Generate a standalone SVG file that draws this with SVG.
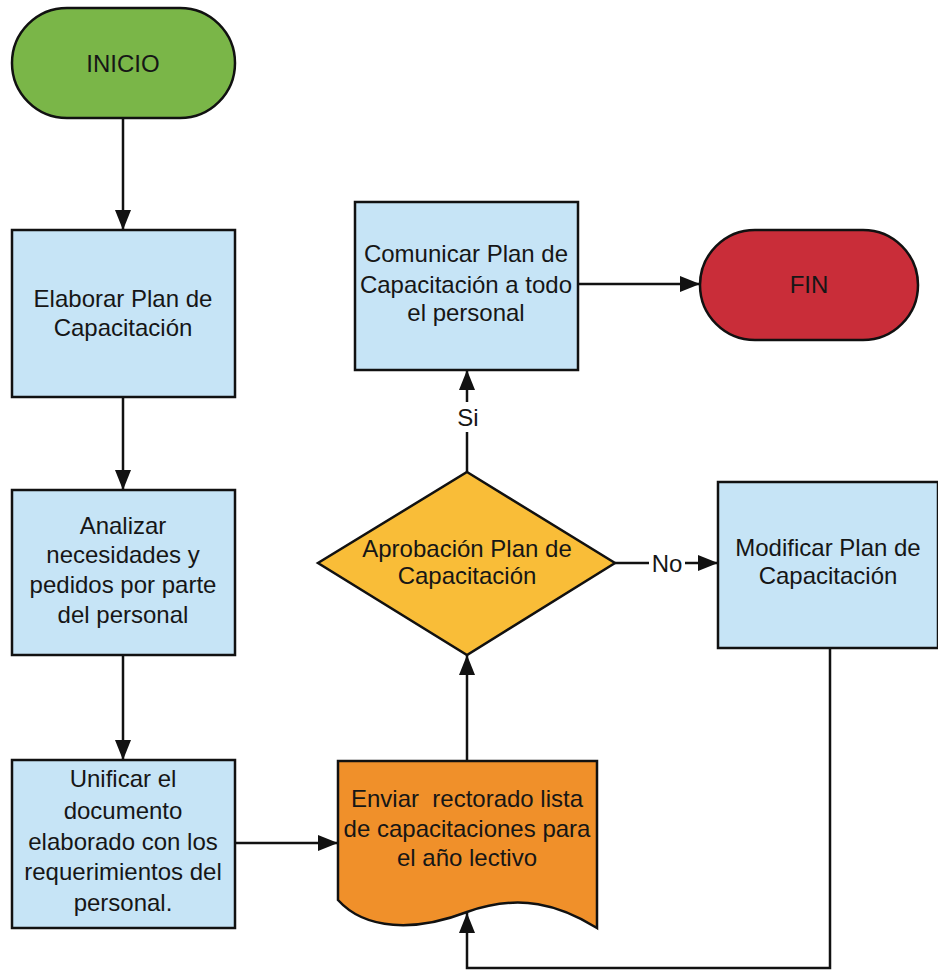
<svg xmlns="http://www.w3.org/2000/svg" width="938" height="973" viewBox="0 0 938 973">
  <style>
    .lbl { font-family: "Liberation Sans", Arial, sans-serif; font-size: 24px; fill: #161616; text-anchor: middle; }
    .shape { stroke: #111; stroke-width: 2.5; }
    .proc { fill: #C6E4F6; }
    .wire { fill: none; stroke: #111; stroke-width: 2.5; }
    .arrow { marker-end: url(#head); }
  </style>
  <defs>
    <marker id="head" viewBox="0 0 20 16" refX="20" refY="8" markerWidth="20" markerHeight="16" markerUnits="userSpaceOnUse" orient="auto">
      <path d="M0,0 L20,8 L0,16 Z" fill="#111"/>
    </marker>
  </defs>

  <rect width="938" height="973" fill="#ffffff"/>

  <!-- connectors -->
  <g id="connectors">
    <path class="wire arrow" d="M123,118 V230"/>
    <path class="wire arrow" d="M123,397 V490"/>
    <path class="wire arrow" d="M123,655 V760"/>
    <path class="wire arrow" d="M235,843 H338"/>
    <path class="wire arrow" d="M467,761 V655"/>
    <path class="wire arrow" d="M467,472 V370"/>
    <path class="wire arrow" d="M578,284 H700"/>
    <path class="wire arrow" d="M615,563 H718"/>
    <path class="wire arrow" d="M830,648 V968 H467 V913"/>
    <rect x="453" y="402" width="30" height="30" fill="#ffffff"/>
    <text class="lbl" x="468" y="426">Si</text>
    <rect x="649" y="550" width="36" height="26" fill="#ffffff"/>
    <text class="lbl" x="667" y="572">No</text>
  </g>

  <g id="inicio">
    <rect class="shape" x="12" y="8" width="223" height="110" rx="55" ry="55" fill="#7AB648"/>
    <text class="lbl" x="123" y="72">INICIO</text>
  </g>

  <g id="elaborar">
    <rect class="shape proc" x="12" y="230" width="223" height="167"/>
    <text class="lbl" x="123" y="307">Elaborar Plan de</text>
    <text class="lbl" x="123" y="336">Capacitación</text>
  </g>

  <g id="analizar">
    <rect class="shape proc" x="12" y="490" width="223" height="165"/>
    <text class="lbl" x="123" y="534">Analizar</text>
    <text class="lbl" x="123" y="563">necesidades y</text>
    <text class="lbl" x="123" y="593">pedidos por parte</text>
    <text class="lbl" x="123" y="623">del personal</text>
  </g>

  <g id="unificar">
    <rect class="shape proc" x="12" y="760" width="223" height="168"/>
    <text class="lbl" x="123" y="787">Unificar el</text>
    <text class="lbl" x="123" y="819">documento</text>
    <text class="lbl" x="123" y="850">elaborado con los</text>
    <text class="lbl" x="123" y="880">requerimientos del</text>
    <text class="lbl" x="123" y="911">personal.</text>
  </g>

  <g id="enviar">
    <path class="shape" fill="#F0902A" d="M338,761 H597 V928 C560,905 520,893 467,912 C415,932 365,930 338,900 Z"/>
    <text class="lbl" x="467" y="807" xml:space="preserve">Enviar  rectorado lista</text>
    <text class="lbl" x="467" y="837">de capacitaciones para</text>
    <text class="lbl" x="467" y="866">el año lectivo</text>
  </g>

  <g id="aprobacion">
    <path class="shape" fill="#F9BD38" d="M467,472 L615,563 L467,655 L318,563 Z"/>
    <text class="lbl" x="467" y="557">Aprobación Plan de</text>
    <text class="lbl" x="467" y="584">Capacitación</text>
  </g>

  <g id="comunicar">
    <rect class="shape proc" x="355" y="202" width="223" height="168"/>
    <text class="lbl" x="466" y="262">Comunicar Plan de</text>
    <text class="lbl" x="466" y="293">Capacitación a todo</text>
    <text class="lbl" x="466" y="321">el personal</text>
  </g>

  <g id="fin">
    <rect class="shape" x="700" y="230" width="218" height="110" rx="55" ry="55" fill="#C92D39"/>
    <text class="lbl" x="809" y="293">FIN</text>
  </g>

  <g id="modificar">
    <rect class="shape proc" x="718" y="482" width="220" height="166"/>
    <text class="lbl" x="828" y="556">Modificar Plan de</text>
    <text class="lbl" x="828" y="584">Capacitación</text>
  </g>
</svg>
